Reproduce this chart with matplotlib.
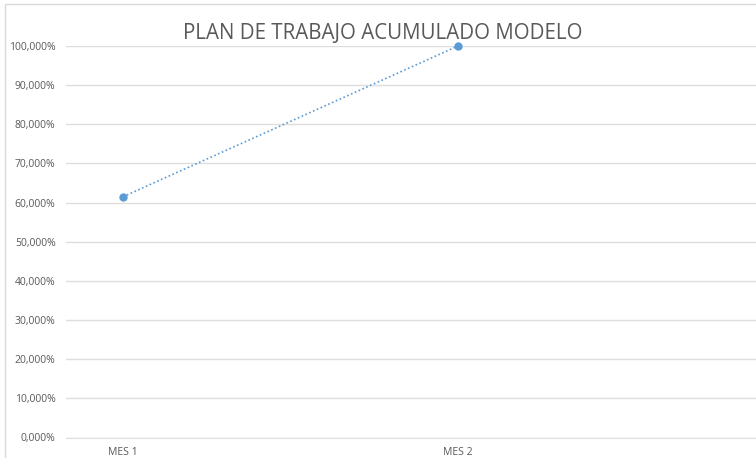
import matplotlib
matplotlib.use("Agg")
import matplotlib.pyplot as plt
from matplotlib.ticker import FuncFormatter
from matplotlib.patches import Rectangle

categories = ["MES 1", "MES 2"]
values = [0.615, 1.0]
yticks = [0.0, 0.1, 0.2, 0.3, 0.4, 0.5, 0.6, 0.7, 0.8, 0.9, 1.0]
title = "PLAN DE TRABAJO ACUMULADO MODELO"

W, H = 756, 458
fig = plt.figure(figsize=(W / 100, H / 100), dpi=100)
plt.rcParams['font.family'] = ['Open Sans', 'DejaVu Sans']

# chart border (partially visible)
fig.patches.append(Rectangle((5 / W, -0.1), 2, 1.1 - 4.5 / H, transform=fig.transFigure,
                             fill=False, edgecolor='#d9d9d9', linewidth=1.0))

left, right = 66, 756
top, bottom = 46, 437.5
ax = fig.add_axes([left / W, 1 - bottom / H, (right - left) / W, (bottom - top) / H])
x = list(range(len(categories)))
ax.plot(x, values, linestyle=(0, (1, 1.5)), color='#5b9bd5', linewidth=1.2,
        marker='o', markersize=5, clip_on=False)
ax.set_xlim(-(123 - left) / 335, (right - 123) / 335)
ax.set_ylim(0, 1)
ax.set_yticks(yticks)
ax.yaxis.set_major_formatter(FuncFormatter(lambda v, p: f"{v*100:.3f}%".replace('.', ',')))
ax.set_xticks(x)
ax.set_xticklabels(categories)
ax.grid(axis='y', color='#dedede', linewidth=1.0)
ax.set_axisbelow(True)
for s in ['top', 'right', 'left']:
    ax.spines[s].set_visible(False)
ax.spines['bottom'].set_color('#dedede')
ax.tick_params(axis='both', length=0, labelsize=7.5, colors='#595959')
ax.tick_params(axis='y', pad=7.5)
ax.tick_params(axis='x', pad=7)

fig.text(383 / W, 1 - 33.5 / H, title, ha='center', va='center', fontsize=14.8, color='#595959')

fig.savefig("out.png", dpi=100)
